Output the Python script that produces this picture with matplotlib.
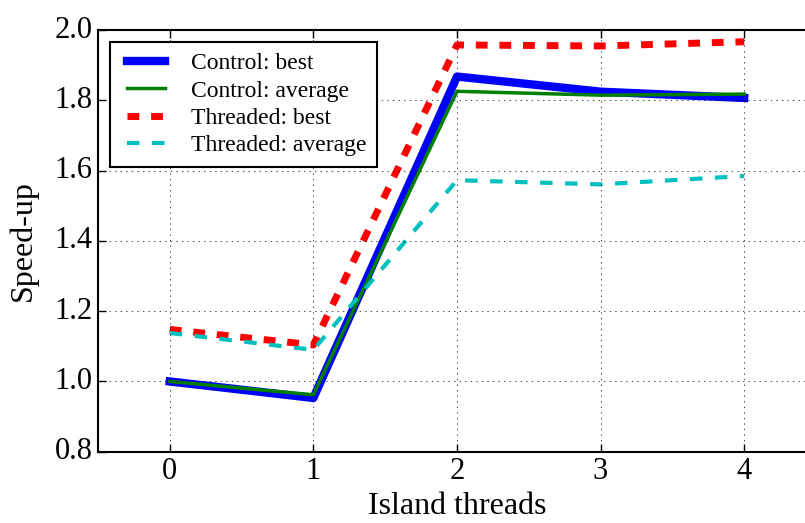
import matplotlib
matplotlib.use('Agg')
import matplotlib.pyplot as plt

threads = [0, 1, 2, 3, 4]
control_best = [1.00, 0.953, 1.868, 1.825, 1.807]
control_avg = [1.00, 0.962, 1.826, 1.815, 1.818]
threaded_best = [1.148, 1.104, 1.958, 1.955, 1.967]
threaded_avg = [1.138, 1.090, 1.573, 1.561, 1.585]

plt.style.use('classic')
plt.rcParams['font.family'] = ['Liberation Serif', 'DejaVu Serif']
plt.rcParams['lines.scale_dashes'] = False

fig = plt.figure(figsize=(8.05, 5.23), dpi=100)
ax = fig.add_axes([0.1217, 0.1363, 0.892, 0.806])

ax.plot(threads, control_best, color='b', lw=6, label='Control: best')
ax.plot(threads, control_avg, color='g', lw=2.5, label='Control: average')
ax.plot(threads, threaded_best, color='r', lw=5, dashes=(8.5, 8.5), label='Threaded: best')
ax.plot(threads, threaded_avg, color='c', lw=3, dashes=(9, 9), label='Threaded: average')

ax.set_xlim(-0.5, 4.5)
ax.set_ylim(0.8, 2.0)
ax.set_xticks(threads)
ax.set_yticks([0.8, 1.0, 1.2, 1.4, 1.6, 1.8, 2.0])
ax.grid(True, linestyle=':', color='k')
ax.tick_params(labelsize=22, length=6, width=1)
ax.set_xlabel('Island threads', fontsize=23, labelpad=4)
ax.set_ylabel('Speed-up', fontsize=23, labelpad=12)
for s in ax.spines.values():
    s.set_linewidth(1.5)

leg = ax.legend(loc='upper left', fontsize=17, handlelength=2.2, borderpad=0.45,
                labelspacing=0.25, fancybox=False)
leg.get_frame().set_linewidth(1.5)

fig.savefig('out.png', dpi=100)
